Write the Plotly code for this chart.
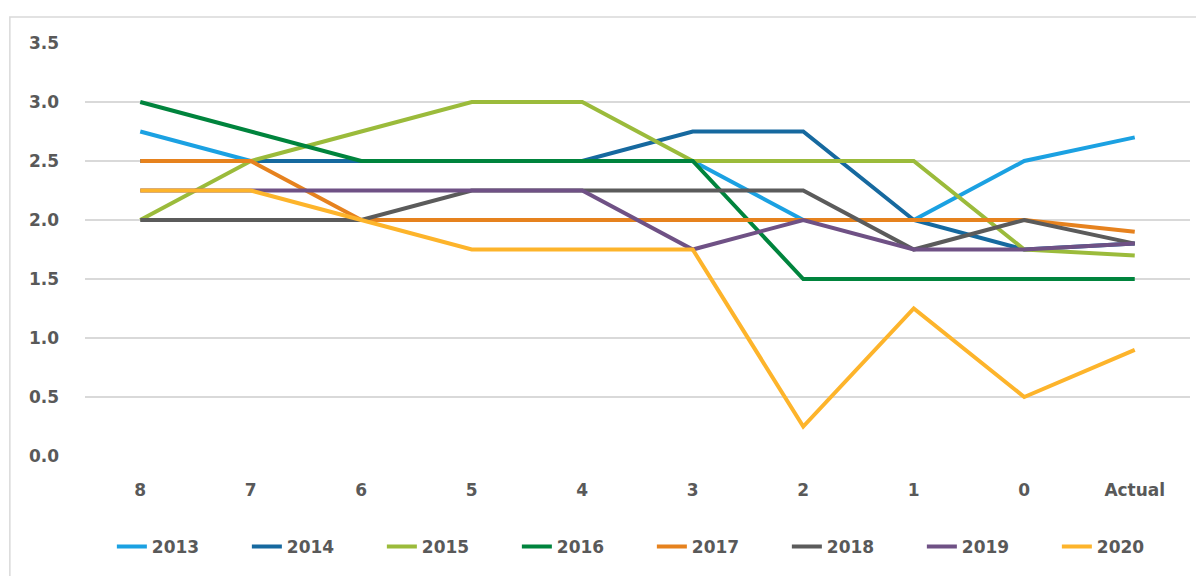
import plotly.graph_objects as go

categories = ["8", "7", "6", "5", "4", "3", "2", "1", "0", "Actual"]

y2013 = [2.75, 2.5, 2.5, 2.5, 2.5, 2.5, 2.0, 2.0, 2.5, 2.7]
y2014 = [2.5, 2.5, 2.5, 2.5, 2.5, 2.75, 2.75, 2.0, 1.75, 1.8]
y2015 = [2.0, 2.5, 2.75, 3.0, 3.0, 2.5, 2.5, 2.5, 1.75, 1.7]
y2016 = [3.0, 2.75, 2.5, 2.5, 2.5, 2.5, 1.5, 1.5, 1.5, 1.5]
y2017 = [2.5, 2.5, 2.0, 2.0, 2.0, 2.0, 2.0, 2.0, 2.0, 1.9]
y2018 = [2.0, 2.0, 2.0, 2.25, 2.25, 2.25, 2.25, 1.75, 2.0, 1.8]
y2019 = [2.25, 2.25, 2.25, 2.25, 2.25, 1.75, 2.0, 1.75, 1.75, 1.8]
y2020 = [2.25, 2.25, 2.0, 1.75, 1.75, 1.75, 0.25, 1.25, 0.5, 0.9]

series = [
    ("2013", y2013, "#1BA1E2"),
    ("2014", y2014, "#16699F"),
    ("2015", y2015, "#9BBB3B"),
    ("2016", y2016, "#00843D"),
    ("2017", y2017, "#E6821E"),
    ("2018", y2018, "#5B5B5B"),
    ("2019", y2019, "#6F5185"),
    ("2020", y2020, "#FDB42B"),
]

fig = go.Figure()
for name, vals, col in series:
    fig.add_trace(go.Scatter(
        x=categories, y=vals, name=name, mode="lines",
        line=dict(color=col, width=4),
    ))

txt = dict(family="DejaVu Sans", size=17, color="#595959", weight="bold")

fig.update_xaxes(
    type="category", range=[-0.5, 9.5], showgrid=False, showline=False,
    ticks="", tickfont=txt, ticklabelstandoff=22,
)
fig.update_yaxes(
    range=[0, 3.5], dtick=0.5, tickformat=".1f", showgrid=True,
    gridcolor="#d9d9d9", gridwidth=1.5, zeroline=False, tickfont=txt,
    ticklabelstandoff=25,
)

# page body adds an 8px offset, so margins are shifted to compensate
fig.update_layout(
    width=1204, height=576,
    margin=dict(l=77, r=22, t=35, b=128),
    plot_bgcolor="white", paper_bgcolor="white",
    font=txt,
    legend=dict(
        orientation="h", x=0.513, xanchor="center", y=-0.22, yanchor="middle",
        font=txt, itemwidth=30, tracegroupgap=0,
        entrywidth=90, entrywidthmode="pixels",
    ),
    shapes=[dict(
        type="rect", xref="paper", yref="paper",
        x0=-0.068, x1=1.05, y0=-0.4, y1=1.063,
        line=dict(color="#d9d9d9", width=1.5),
    )],
)

fig.write_html("out.html")
